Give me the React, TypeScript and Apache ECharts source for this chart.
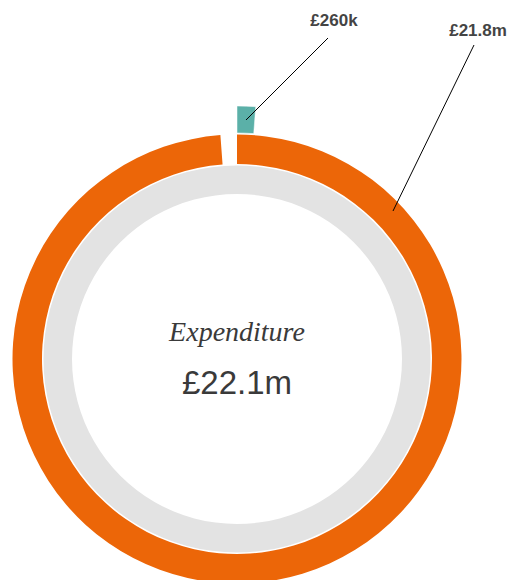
import React, { useEffect, useRef } from "react";
import * as echarts from "echarts";

const categories = ["Other", "Main"];
const valuesMillions = [0.26, 21.8];
const colors = ["#5BB0A8", "#EC6608"];
const centerTitle = "Expenditure";

function fmt(v: number): string {
  if (v < 1) return "£" + Math.round(v * 1000) + "k";
  return "£" + v.toFixed(1) + "m";
}

export default function App() {
  const ref = useRef<HTMLDivElement>(null);
  useEffect(() => {
    document.body.style.margin = "0";
    const chart = echarts.init(ref.current!, null, { renderer: "svg" });
    const total = valuesMillions.reduce((a, b) => a + b, 0);
    const cx = 237;
    const cy = 359;
    const transparent = { color: "rgba(0,0,0,0)", borderWidth: 0 };
    const labelFont = {
      fontFamily: "Liberation Sans, Arial, sans-serif",
      fontWeight: "bold",
      fontSize: 17,
      fill: "#444",
      align: "center",
      verticalAlign: "middle",
    };
    chart.setOption({
      animation: false,
      backgroundColor: "#ffffff",
      series: [
        {
          type: "pie",
          center: [cx, cy],
          radius: [165, 193.5],
          silent: true,
          label: { show: false },
          labelLine: { show: false },
          data: [{ value: 1, name: "bg", itemStyle: { color: "#E3E3E3" } }],
        },
        {
          type: "pie",
          center: [cx, cy],
          radius: [195, 224.5],
          startAngle: 90,
          clockwise: true,
          silent: true,
          avoidLabelOverlap: false,
          label: { show: false },
          labelLine: { show: false },
          data: [
            { value: valuesMillions[1], name: categories[1], itemStyle: { color: colors[1] } },
            { value: valuesMillions[0], name: categories[0] + "-gap", itemStyle: transparent },
          ],
        },
        {
          type: "pie",
          center: [cx, cy],
          radius: [226, 253],
          startAngle: 90,
          clockwise: true,
          silent: true,
          avoidLabelOverlap: false,
          label: { show: false },
          labelLine: { show: false },
          data: [
            { value: valuesMillions[0], name: categories[0], itemStyle: { color: colors[0], borderColor: "#fff", borderWidth: 0.5 } },
            { value: valuesMillions[1], name: categories[1] + "-gap", itemStyle: transparent },
          ],
        },
      ],
      graphic: [
        {
          type: "text",
          x: cx,
          y: 331,
          z: 100,
          style: {
            text: centerTitle,
            fontFamily: "Liberation Serif, serif",
            fontStyle: "italic",
            fontSize: 28,
            fill: "#3a3a3a",
            align: "center",
            verticalAlign: "middle",
          },
        },
        {
          type: "text",
          x: cx,
          y: 382,
          z: 100,
          style: {
            text: fmt(total),
            fontFamily: "Liberation Sans, Arial, sans-serif",
            fontSize: 33,
            fill: "#3a3a3a",
            align: "center",
            verticalAlign: "middle",
          },
        },
        {
          type: "line",
          z: 100,
          shape: { x1: 246, y1: 120, x2: 328, y2: 38 },
          style: { stroke: "#000", lineWidth: 1 },
        },
        {
          type: "text",
          x: 334,
          y: 20,
          z: 100,
          style: { text: fmt(valuesMillions[0]), ...labelFont },
        },
        {
          type: "line",
          z: 100,
          shape: { x1: 393, y1: 211, x2: 474, y2: 45 },
          style: { stroke: "#000", lineWidth: 1 },
        },
        {
          type: "text",
          x: 478,
          y: 30,
          z: 100,
          style: { text: fmt(valuesMillions[1]), ...labelFont },
        },
      ],
    });
    return () => chart.dispose();
  }, []);
  return (
    <div
      ref={ref}
      style={{ position: "absolute", left: 0, top: 0, width: 514, height: 580 }}
    />
  );
}
